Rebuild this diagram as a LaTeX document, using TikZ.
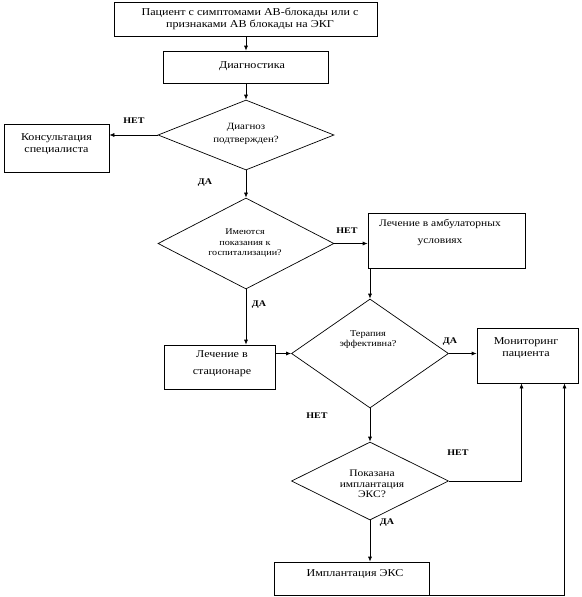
\documentclass[tikz,border=0pt]{standalone}
\usepackage{fontspec}
\setmainfont[FakeStretch=1.15]{Liberation Serif}
\usetikzlibrary{shapes.geometric,arrows.meta}

\begin{document}
\begin{tikzpicture}[x=1pt,y=-1pt,line width=0.7pt,>={Latex[length=5pt,width=4pt]},
 blok/.style={draw,rectangle,inner sep=0pt},
 romb/.style={draw,diamond,inner sep=0pt},
 txt/.style={align=center,inner sep=0pt,font=\fontsize{10.5}{12.5}\selectfont},
 rtxt/.style={align=center,inner sep=0pt,font=\fontsize{9}{10}\selectfont},
 otv/.style={inner sep=0pt,font=\fontsize{8.7}{10}\selectfont\bfseries}]
\useasboundingbox (0,0) rectangle (581,597);
% boxes
\node[blok,minimum width=263pt,minimum height=34pt] (pac) at (246,19) {};
\node[txt,font=\fontsize{10.5}{12}\selectfont] (tpac) at (250,18.5) {Пациент с симптомами АВ-блокады или с\\признаками АВ блокады на ЭКГ};
\node[blok,minimum width=165pt,minimum height=32pt] (diag) at (246,67) {};
\node[txt] (tdiag) at (252,66) {Диагностика};
\node[blok,minimum width=105pt,minimum height=48pt] (kons) at (56.5,148) {};
\node[txt] (tkons) at (56.5,144) {Консультация\\специалиста};
\node[blok,minimum width=157pt,minimum height=55pt] (amb) at (446.5,240.5) {};
\node[txt,font=\fontsize{10}{17}\selectfont] (tamb) at (440,232.5) {Лечение в амбулаторных\\условиях};
\node[blok,minimum width=111pt,minimum height=44pt] (stac) at (219.5,367) {};
\node[txt,font=\fontsize{10.5}{17}\selectfont] (tstac) at (222,363.5) {Лечение в\\стационаре};
\node[blok,minimum width=101pt,minimum height=55pt] (mon) at (527.5,355.5) {};
\node[txt] (tmon) at (526,348) {Мониторинг\\пациента};
\node[blok,minimum width=155pt,minimum height=33pt] (impl) at (351.5,578.5) {};
\node[txt] (timpl) at (355,574) {Имплантация ЭКС};
% decisions
\node[romb,minimum width=176pt,minimum height=70pt] (q1) at (246,135) {};
\node[rtxt,font=\fontsize{9.5}{13}\selectfont] (tq1) at (246,134) {Диагноз\\подтвержден?};
\node[romb,minimum width=176pt,minimum height=91pt] (q2) at (246,243.5) {};
\node[rtxt,font=\fontsize{8.8}{10.3}\selectfont] (tq2) at (245,243) {Имеются\\показания к\\госпитализации?};
\node[romb,minimum width=157pt,minimum height=109pt] (q3) at (370,353.5) {};
\node[rtxt] (tq3) at (368,340) {Терапия\\эффективна?};
\node[romb,minimum width=157pt,minimum height=78pt] (q4) at (370,481) {};
\node[rtxt,font=\fontsize{10}{10.5}\selectfont] (tq4) at (372,484) {Показана\\имплантация\\ЭКС?};
% answers
\node[otv] (n1) at (134,121) {НЕТ};
\node[otv] (d1) at (205,183) {ДА};
\node[otv] (n2) at (347,231) {НЕТ};
\node[otv] (d2) at (259,305) {ДА};
\node[otv] (d3) at (450,342) {ДА};
\node[otv] (n3) at (317,416) {НЕТ};
\node[otv] (n4) at (458,453) {НЕТ};
\node[otv] (d4) at (387,523) {ДА};
% arrows
\draw[->] (pac) -- (diag);
\draw[->] (diag) -- (q1);
\draw[->] (q1.west) -- (q1.west -| kons.east);
\draw[->] (q1) -- (q2);
\draw[->] (q2.east) -- (q2.east -| amb.west);
\draw[->] (q3.north |- amb.south) -- (q3.north);
\draw[->] (q2.south) -- (q2.south |- stac.north);
\draw[->] (q3.west -| stac.east) -- (q3.west);
\draw[->] (q3.east) -- (q3.east -| mon.west);
\draw[->] (q3) -- (q4);
\draw[->] (q4.east) -| ([xshift=-6pt]mon.south);
\draw[->] (q4.south) -- (q4.south |- impl.north);
\draw[->] ([xshift=25pt]impl.south) -| ([xshift=37pt]mon.south);
\end{tikzpicture}
\end{document}
